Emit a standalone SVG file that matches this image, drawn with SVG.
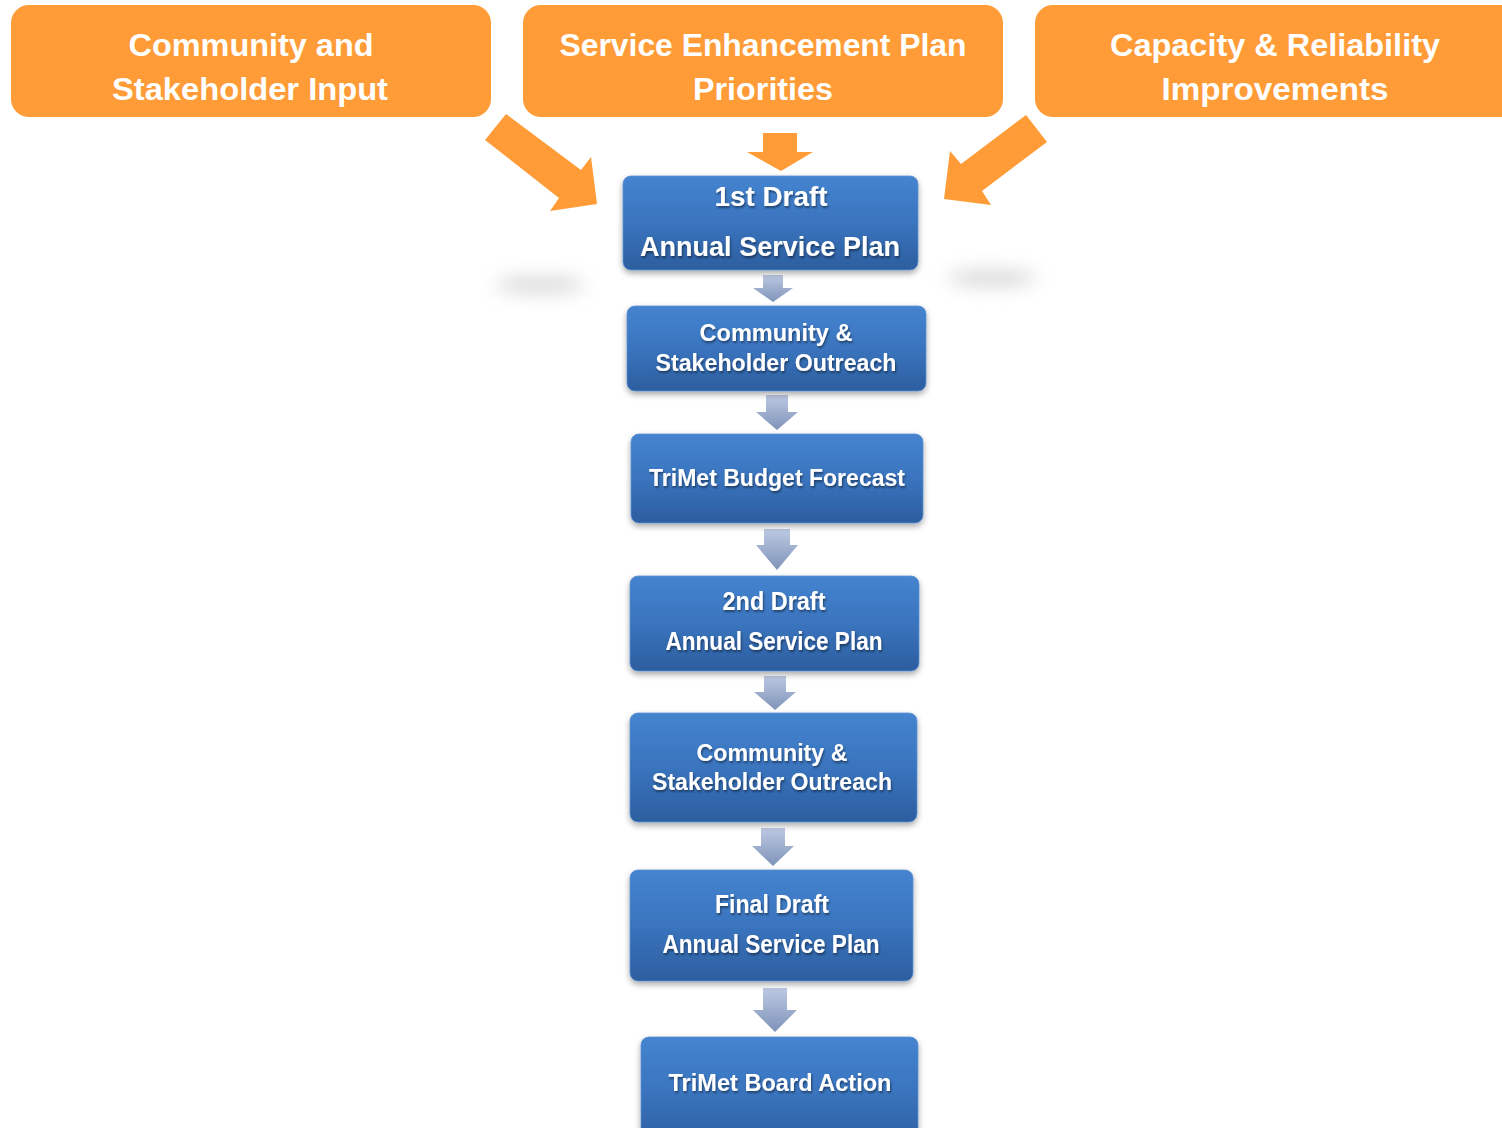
<svg xmlns="http://www.w3.org/2000/svg" width="1502" height="1128" viewBox="0 0 1502 1128">
<defs>
<linearGradient id="blueGrad" x1="0" y1="0" x2="0" y2="1">
<stop offset="0" stop-color="#4584D0"/>
<stop offset="0.5" stop-color="#3A74BE"/>
<stop offset="1" stop-color="#2C5E9F"/>
</linearGradient>
<linearGradient id="grayGrad" x1="0" y1="0" x2="0" y2="1">
<stop offset="0" stop-color="#BCC9E2"/>
<stop offset="1" stop-color="#7F93B9"/>
</linearGradient>
<filter id="shadow" x="-10%" y="-10%" width="120%" height="130%">
<feGaussianBlur in="SourceAlpha" stdDeviation="3"/>
<feOffset dx="0" dy="3" result="b"/>
<feComponentTransfer><feFuncA type="linear" slope="0.35"/></feComponentTransfer>
<feMerge><feMergeNode/><feMergeNode in="SourceGraphic"/></feMerge>
</filter>
<filter id="blob" x="-50%" y="-200%" width="200%" height="500%">
<feGaussianBlur stdDeviation="9"/>
</filter>
<filter id="txtsh" x="-5%" y="-20%" width="110%" height="140%">
<feGaussianBlur in="SourceAlpha" stdDeviation="1"/>
<feOffset dx="1" dy="1.5"/>
<feComponentTransfer><feFuncA type="linear" slope="0.45"/></feComponentTransfer>
<feMerge><feMergeNode/><feMergeNode in="SourceGraphic"/></feMerge>
</filter>
</defs>
<style>
.orange{fill:#FF9C37;}
.otxt{font-family:"Liberation Sans",Arial,sans-serif;font-weight:bold;font-size:32px;fill:#FFFFFF;text-anchor:middle;}
.blue{fill:url(#blueGrad);stroke:#5A8FD0;stroke-width:0.8;}
.btxt{font-family:"Liberation Sans",Arial,sans-serif;font-weight:bold;fill:#FFFFFF;text-anchor:middle;}
.gray{fill:url(#grayGrad);}
</style>
<rect width="1502" height="1128" fill="#FFFFFF"/>

<!-- faint shadow blobs -->
<ellipse cx="540" cy="285" rx="45" ry="8" fill="#C8C8C8" opacity="0.7" filter="url(#blob)"/>
<ellipse cx="992" cy="278" rx="45" ry="8" fill="#C8C8C8" opacity="0.7" filter="url(#blob)"/>

<g id="input-community">
<rect class="orange" x="11" y="5" width="480" height="112" rx="18"/>
<text class="otxt" x="251" y="56" textLength="245" lengthAdjust="spacingAndGlyphs">Community and</text>
<text class="otxt" x="250" y="100" textLength="276" lengthAdjust="spacingAndGlyphs">Stakeholder Input</text>
</g>
<g id="input-sep">
<rect class="orange" x="523" y="5" width="480" height="112" rx="18"/>
<text class="otxt" x="763" y="56" textLength="407" lengthAdjust="spacingAndGlyphs">Service Enhancement Plan</text>
<text class="otxt" x="763" y="100" textLength="140" lengthAdjust="spacingAndGlyphs">Priorities</text>
</g>
<g id="input-capacity">
<rect class="orange" x="1035" y="5" width="490" height="112" rx="18"/>
<text class="otxt" x="1275" y="56" textLength="330" lengthAdjust="spacingAndGlyphs">Capacity &amp; Reliability</text>
<text class="otxt" x="1275" y="100" textLength="227" lengthAdjust="spacingAndGlyphs">Improvements</text>
</g>

<g id="connectors">
<polygon class="orange" points="506,114 581,170 591,157 597,204 550,211 559,198 485,140"/>
<polygon class="orange" points="763,133 797,133 797,152 813,152 781,171 747,152 763,152"/>
<polygon class="orange" points="1026,115 1047,142 982,191 991,205 944,199 950,151 961,164"/>
<polygon class="gray" points="763,275 783,275 783,288 793,288 773,302 753,288 763,288"/>
<polygon class="gray" points="766,395 788,395 788,412 798,412 777,430 756,412 766,412"/>
<polygon class="gray" points="764,529 790,529 790,545 798,545 777,570 756,545 764,545"/>
<polygon class="gray" points="764,676 786,676 786,692 796,692 775,710 754,692 764,692"/>
<polygon class="gray" points="761,828 785,828 785,846 794,846 773,866 752,846 761,846"/>
<polygon class="gray" points="763,988 787,988 787,1010 797,1010 775,1032 753,1010 763,1010"/>
</g>

<g id="step-1st-draft">
<rect class="blue" x="623" y="176" width="295" height="94" rx="8" filter="url(#shadow)"/>
<g filter="url(#txtsh)">
<text class="btxt" x="771" y="206" font-size="28" textLength="113" lengthAdjust="spacingAndGlyphs">1st Draft</text>
<text class="btxt" x="770" y="256" font-size="28" textLength="260" lengthAdjust="spacingAndGlyphs">Annual Service Plan</text>
</g>
</g>
<g id="step-outreach-1">
<rect class="blue" x="627" y="306" width="299" height="85" rx="8" filter="url(#shadow)"/>
<g filter="url(#txtsh)">
<text class="btxt" x="776" y="341" font-size="24" textLength="153" lengthAdjust="spacingAndGlyphs">Community &amp;</text>
<text class="btxt" x="776" y="371" font-size="24" textLength="241" lengthAdjust="spacingAndGlyphs">Stakeholder Outreach</text>
</g>
</g>
<g id="step-budget">
<rect class="blue" x="631" y="434" width="292" height="89" rx="8" filter="url(#shadow)"/>
<g filter="url(#txtsh)">
<text class="btxt" x="777" y="486" font-size="24" textLength="256" lengthAdjust="spacingAndGlyphs">TriMet Budget Forecast</text>
</g>
</g>
<g id="step-2nd-draft">
<rect class="blue" x="630" y="576" width="289" height="95" rx="8" filter="url(#shadow)"/>
<g filter="url(#txtsh)">
<text class="btxt" x="774" y="610" font-size="25" textLength="103" lengthAdjust="spacingAndGlyphs">2nd Draft</text>
<text class="btxt" x="774" y="650" font-size="25" textLength="217" lengthAdjust="spacingAndGlyphs">Annual Service Plan</text>
</g>
</g>
<g id="step-outreach-2">
<rect class="blue" x="630" y="713" width="287" height="109" rx="8" filter="url(#shadow)"/>
<g filter="url(#txtsh)">
<text class="btxt" x="772" y="761" font-size="24" textLength="151" lengthAdjust="spacingAndGlyphs">Community &amp;</text>
<text class="btxt" x="772" y="790" font-size="24" textLength="240" lengthAdjust="spacingAndGlyphs">Stakeholder Outreach</text>
</g>
</g>
<g id="step-final-draft">
<rect class="blue" x="630" y="870" width="283" height="111" rx="8" filter="url(#shadow)"/>
<g filter="url(#txtsh)">
<text class="btxt" x="772" y="913" font-size="25" textLength="114" lengthAdjust="spacingAndGlyphs">Final Draft</text>
<text class="btxt" x="771" y="953" font-size="25" textLength="217" lengthAdjust="spacingAndGlyphs">Annual Service Plan</text>
</g>
</g>
<g id="step-board">
<rect class="blue" x="641" y="1037" width="277" height="110" rx="8" filter="url(#shadow)"/>
<g filter="url(#txtsh)">
<text class="btxt" x="780" y="1091" font-size="24" textLength="223" lengthAdjust="spacingAndGlyphs">TriMet Board Action</text>
</g>
</g>
</svg>
